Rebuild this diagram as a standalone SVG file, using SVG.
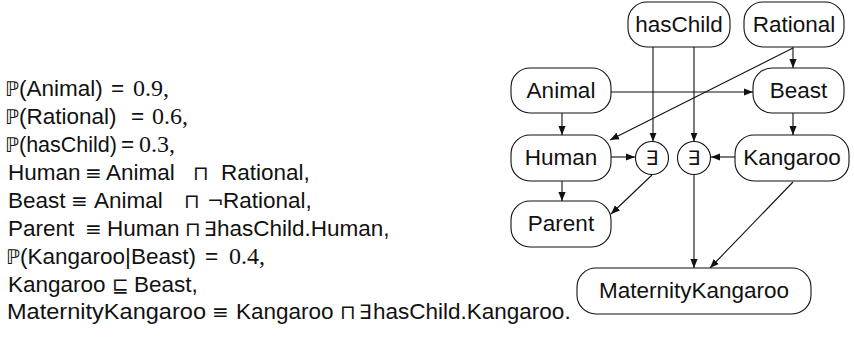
<svg xmlns="http://www.w3.org/2000/svg" width="854" height="339" viewBox="0 0 854 339">
<defs>
<marker id="ah" viewBox="0 0 10 10" refX="10" refY="5" markerWidth="9" markerHeight="9" markerUnits="userSpaceOnUse" orient="auto">
<path d="M0,1 L10,5 L0,9 z" fill="#111"/>
</marker>
<style>
.t{font-family:"Liberation Sans","DejaVu Sans",sans-serif;font-size:22.5px;fill:#111}
.s{font-family:"DejaVu Sans",sans-serif;font-size:20px}
.n{font-family:"Liberation Serif","DejaVu Serif",serif;font-size:24px;fill:#111}
.box{fill:#fff;stroke:#111;stroke-width:1.1}
.lbl{font-family:"Liberation Sans","DejaVu Sans",sans-serif;font-size:22.5px;fill:#111;text-anchor:middle}
.ex{font-family:"DejaVu Sans",sans-serif;font-size:20px;fill:#111;text-anchor:middle}
.e{stroke:#111;stroke-width:1.1;fill:none;marker-end:url(#ah)}
</style>
</defs>
<rect width="854" height="339" fill="#fff"/>

<g id="formulas">
<text class="t" y="96"><tspan class="s" x="5">ℙ</tspan><tspan x="19">(Animal)</tspan><tspan x="111">=</tspan></text>
<text class="n" x="133" y="96">0.9,</text>
<text class="t" y="124"><tspan class="s" x="5">ℙ</tspan><tspan x="19">(Rational)</tspan><tspan x="131">=</tspan></text>
<text class="n" x="152" y="124">0.6,</text>
<text class="t" y="152"><tspan class="s" x="5">ℙ</tspan><tspan x="19" textLength="98" lengthAdjust="spacingAndGlyphs">(hasChild)</tspan><tspan x="121">=</tspan></text>
<text class="n" x="139" y="152">0.3,</text>
<text class="t" y="180"><tspan x="8">Human</tspan><tspan class="s" x="85">≡</tspan><tspan x="106">Animal</tspan><tspan class="s" x="193">⊓</tspan><tspan x="221">Rational,</tspan></text>
<text class="t" y="208"><tspan x="8">Beast</tspan><tspan class="s" x="71">≡</tspan><tspan x="94">Animal</tspan><tspan class="s" x="184">⊓</tspan><tspan class="s" x="207">¬</tspan><tspan x="223">Rational,</tspan></text>
<text class="t" y="236"><tspan x="8">Parent</tspan><tspan class="s" x="85">≡</tspan><tspan x="107">Human</tspan><tspan class="s" x="185">⊓</tspan><tspan class="s" x="204">∃</tspan><tspan x="217">hasChild.Human,</tspan></text>
<text class="t" y="264"><tspan class="s" x="6">ℙ</tspan><tspan x="20">(Kangaroo|Beast)</tspan><tspan x="205">=</tspan></text>
<text class="n" x="229" y="264">0.4,</text>
<text class="t" y="292"><tspan x="8">Kangaroo</tspan><tspan class="s" x="112">⊑</tspan><tspan x="134">Beast,</tspan></text>
<text class="t" y="319"><tspan x="7" textLength="199" lengthAdjust="spacingAndGlyphs">MaternityKangaroo</tspan><tspan class="s" x="212">≡</tspan><tspan x="236">Kangaroo</tspan><tspan class="s" x="340">⊓</tspan><tspan class="s" x="359">∃</tspan><tspan x="373">hasChild.Kangaroo.</tspan></text>
</g>

<g id="connectors">
<line class="e" x1="611" y1="92" x2="753" y2="92"/>
<line class="e" x1="562" y1="113" x2="562" y2="135"/>
<line class="e" x1="793" y1="47" x2="793" y2="68"/>
<line class="e" x1="793" y1="48" x2="610" y2="140"/>
<line class="e" x1="653" y1="47" x2="653" y2="141.5"/>
<line class="e" x1="694" y1="47" x2="694" y2="141.5"/>
<line class="e" x1="611" y1="157" x2="635" y2="157"/>
<line class="e" x1="735" y1="157" x2="711" y2="157"/>
<line class="e" x1="793" y1="113" x2="793" y2="135"/>
<line class="e" x1="562" y1="181" x2="562" y2="201"/>
<line class="e" x1="652" y1="175" x2="611" y2="214"/>
<line class="e" x1="694" y1="175" x2="694" y2="268"/>
<line class="e" x1="793" y1="182" x2="710" y2="268"/>
</g>

<g id="hasChild"><rect class="box" x="628" y="2" width="102" height="45" rx="19"/><text class="lbl" x="679" y="32">hasChild</text></g>
<g id="Rational"><rect class="box" x="744" y="2" width="100" height="45" rx="19"/><text class="lbl" x="794" y="32">Rational</text></g>
<g id="Animal"><rect class="box" x="511" y="68" width="100" height="45" rx="19"/><text class="lbl" x="561" y="98">Animal</text></g>
<g id="Beast"><rect class="box" x="753" y="68" width="91" height="45" rx="19"/><text class="lbl" x="798.5" y="98">Beast</text></g>
<g id="Human"><rect class="box" x="511" y="135" width="100" height="46" rx="19"/><text class="lbl" x="561" y="165">Human</text></g>
<g id="exists1"><circle class="box" cx="652" cy="158" r="16.5"/><text class="ex" x="652" y="165">∃</text></g>
<g id="exists2"><circle class="box" cx="694" cy="158" r="16.5"/><text class="ex" x="694" y="165">∃</text></g>
<g id="Kangaroo"><rect class="box" x="735" y="135" width="114" height="46" rx="19"/><text class="lbl" x="792" y="165">Kangaroo</text></g>
<g id="Parent"><rect class="box" x="511" y="201" width="100" height="46" rx="19"/><text class="lbl" x="561" y="231">Parent</text></g>
<g id="MaternityKangaroo"><rect class="box" x="577" y="268" width="234" height="46" rx="19"/><text class="lbl" x="694" y="298">MaternityKangaroo</text></g>
</svg>
